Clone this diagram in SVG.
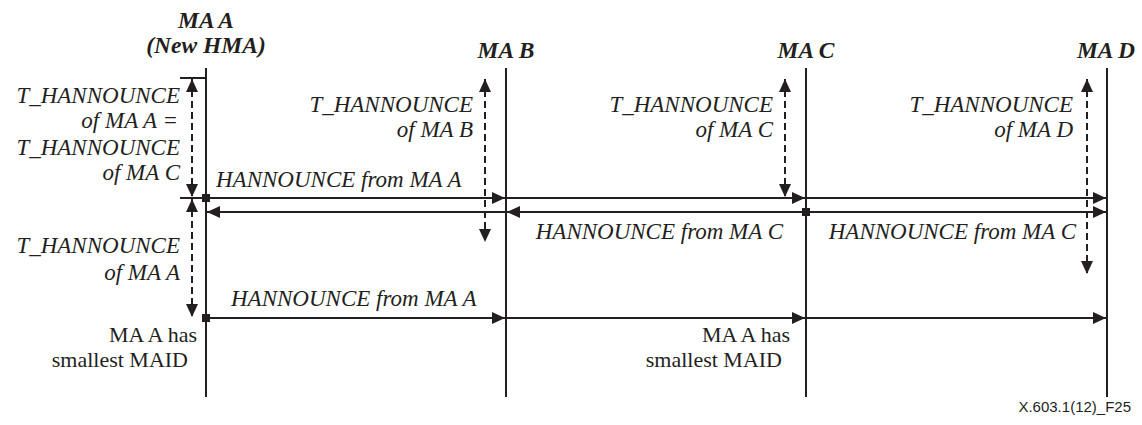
<svg xmlns="http://www.w3.org/2000/svg" width="1142" height="425" viewBox="0 0 1142 425">
<style>
.life{stroke:#231f20;stroke-width:2;fill:none}
.msg{stroke:#231f20;stroke-width:2;fill:none;marker-end:url(#ah)}
.tick{stroke:#231f20;stroke-width:2;fill:none}
.dash{stroke:#231f20;stroke-width:2;fill:none;stroke-dasharray:7 4;marker-start:url(#dh);marker-end:url(#dh)}
.sq{fill:#231f20}
text{font-family:'Liberation Serif','Times New Roman',serif;fill:#231f20}
.hdr{font-size:23.5px;font-weight:bold;font-style:italic;text-anchor:middle}
.it{font-size:23px;font-style:italic}
.rg{font-size:22px;text-anchor:end}
.end{text-anchor:end}
.ft{font-family:'Liberation Sans',Arial,sans-serif;font-size:15px;text-anchor:end}
</style>
<defs>
<marker id="ah" markerUnits="userSpaceOnUse" markerWidth="14" markerHeight="12" refX="13" refY="6" orient="auto">
<path d="M0,0 L13,6 L0,12 z" fill="#231f20"/>
</marker>
<marker id="dh" markerUnits="userSpaceOnUse" markerWidth="14" markerHeight="12" refX="13" refY="6" orient="auto-start-reverse">
<path d="M0,0 L13,6 L0,12 z" fill="#231f20"/>
</marker>
</defs>
<rect width="1142" height="425" fill="#ffffff"/>

<g id="maA">
<line class="life" x1="206" y1="68" x2="206" y2="397"/>
<text class="hdr" x="206" y="28">MA A</text>
<text class="hdr" x="206" y="53">(New HMA)</text>
</g>
<g id="maB">
<line class="life" x1="506" y1="68" x2="506" y2="397"/>
<text class="hdr" x="506" y="58">MA B</text>
</g>
<g id="maC">
<line class="life" x1="806" y1="68" x2="806" y2="397"/>
<text class="hdr" x="806" y="58">MA C</text>
</g>
<g id="maD">
<line class="life" x1="1107" y1="68" x2="1107" y2="397"/>
<text class="hdr" x="1106" y="58">MA D</text>
</g>

<g id="connectors">
<line class="tick" x1="180" y1="78" x2="206" y2="78"/>
<line class="tick" x1="180" y1="198" x2="206" y2="198"/>
<line class="dash" x1="192" y1="79" x2="192" y2="197"/>
<line class="dash" x1="192" y1="199" x2="192" y2="317"/>
<line class="dash" x1="485" y1="79" x2="485" y2="242"/>
<line class="dash" x1="785" y1="79" x2="785" y2="197"/>
<line class="dash" x1="1087" y1="79" x2="1087" y2="274"/>

<line class="msg" x1="206" y1="198" x2="505" y2="198"/>
<line class="msg" x1="506" y1="198" x2="805" y2="198"/>
<line class="msg" x1="806" y1="198" x2="1106" y2="198"/>

<line class="msg" x1="806" y1="212" x2="507" y2="212"/>
<line class="msg" x1="506" y1="212" x2="207" y2="212"/>
<line class="msg" x1="806" y1="212" x2="1106" y2="212"/>

<line class="msg" x1="206" y1="318" x2="505" y2="318"/>
<line class="msg" x1="506" y1="318" x2="805" y2="318"/>
<line class="msg" x1="806" y1="318" x2="1106" y2="318"/>

<rect class="sq" x="202" y="194" width="8" height="8"/>
<rect class="sq" x="802" y="208" width="8" height="8"/>
<rect class="sq" x="202" y="314" width="8" height="8"/>
</g>

<g id="labels">
<text class="it end" x="180" y="103">T_HANNOUNCE</text>
<text class="it end" x="178" y="128">of MA A =</text>
<text class="it end" x="180" y="155">T_HANNOUNCE</text>
<text class="it end" x="180" y="180">of MA C</text>
<text class="it end" x="180" y="253">T_HANNOUNCE</text>
<text class="it end" x="180" y="280">of MA A</text>

<text class="it end" x="473" y="112">T_HANNOUNCE</text>
<text class="it end" x="473" y="137">of MA B</text>
<text class="it end" x="773" y="112">T_HANNOUNCE</text>
<text class="it end" x="773" y="137">of MA C</text>
<text class="it end" x="1073" y="112">T_HANNOUNCE</text>
<text class="it end" x="1073" y="137">of MA D</text>

<text class="it" x="216" y="187">HANNOUNCE from MA A</text>
<text class="it end" x="783" y="239">HANNOUNCE from MA C</text>
<text class="it end" x="1076" y="239">HANNOUNCE from MA C</text>
<text class="it" x="231" y="306">HANNOUNCE from MA A</text>

<text class="rg" x="197" y="342">MA A has</text>
<text class="rg" x="188" y="367">smallest MAID</text>
<text class="rg" x="790" y="342">MA A has</text>
<text class="rg" x="782" y="367">smallest MAID</text>

<text class="ft" x="1131" y="412">X.603.1(12)_F25</text>
</g>
</svg>
